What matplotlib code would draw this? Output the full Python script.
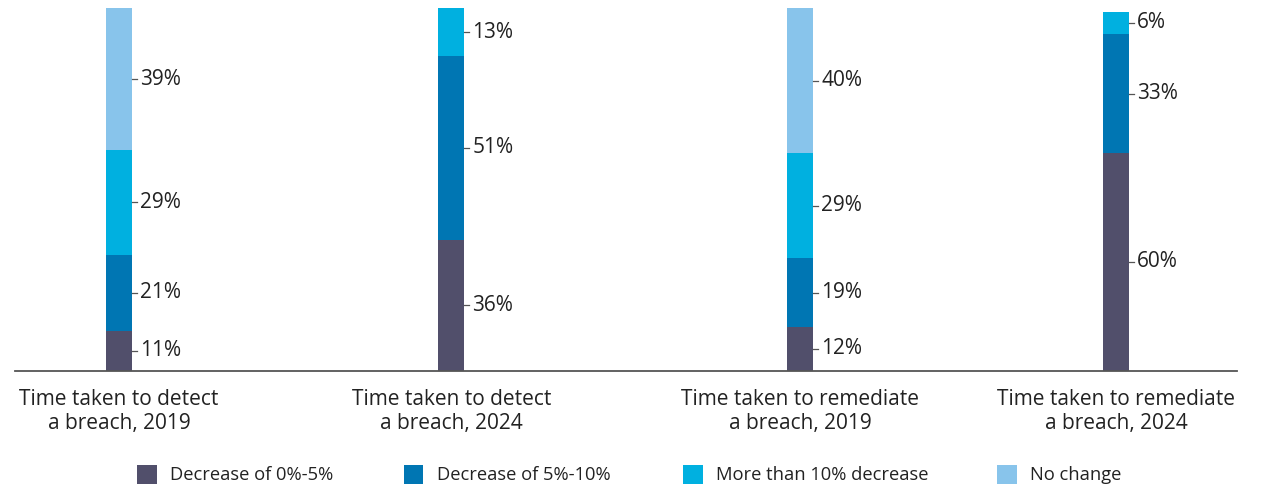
import numpy as np
import matplotlib.pyplot as plt
from matplotlib.patches import Rectangle

plt.rcParams['font.family'] = ['Open Sans', 'DejaVu Sans']

# data
categories = ['Time taken to detect\na breach, 2019', 'Time taken to detect\na breach, 2024',
              'Time taken to remediate\na breach, 2019', 'Time taken to remediate\na breach, 2024']
series = ['Decrease of 0%-5%', 'Decrease of 5%-10%', 'More than 10% decrease', 'No change']
dec_0_5 = [11, 36, 12, 60]
dec_5_10 = [21, 51, 19, 33]
more_10 = [29, 13, 29, 6]
no_change = [39, 0, 40, 0]

colors = ['#514f6b', '#0076b3', '#00b0e0', '#88c4eb']
text_col = '#222222'

W, H = 1263, 486
fig = plt.figure(figsize=(W / 100, H / 100), dpi=100)
# axes box in pixels: x 15..1237, y 8.5..370.5 from top
ax = fig.add_axes([15 / W, 1 - 370.5 / H, 1222 / W, 362 / H])

pos = np.array([0, 1, 2.05, 3])
ax.set_xlim(-0.313, 3.364)
ax.set_ylim(0, 100)
px = 332.33  # pixels per x unit
bw = 26 / px

values = [dec_0_5, dec_5_10, more_10, no_change]
bottom = np.zeros(4)
for vals, col in zip(values, colors):
    vals = np.array(vals, dtype=float)
    ax.bar(pos, vals, bottom=bottom, width=bw, color=col, linewidth=0)
    for x, v, b in zip(pos, vals, bottom):
        if v <= 0:
            continue
        yc = b + v / 2
        xe = x + bw / 2
        ax.plot([xe, xe + 5 / px], [yc, yc], color='#555555', lw=0.9)
        ax.text(xe + 8 / px, yc, f'{int(v)}%', va='center', ha='left',
                fontsize=15, color=text_col)
    bottom += vals

for s in ['top', 'right', 'left']:
    ax.spines[s].set_visible(False)
ax.spines['bottom'].set_color('#555555')
ax.spines['bottom'].set_linewidth(1.3)
ax.set_yticks([])
ax.set_xticks(pos)
ax.set_xticklabels(categories, fontsize=15, color=text_col, linespacing=1.2)
ax.tick_params(axis='x', length=0, pad=13)

# legend drawn by hand
leg_x = [137, 404, 683, 997]
for lx, col, name in zip(leg_x, colors, series):
    fig.add_artist(Rectangle((lx / W, 1 - 484 / H), 19.5 / W, 19.5 / H,
                             transform=fig.transFigure, color=col, lw=0))
    fig.text((lx + 33) / W, 1 - 474.5 / H, name, va='center', ha='left',
             fontsize=13.2, color=text_col)

fig.savefig('out.png', dpi=100)
